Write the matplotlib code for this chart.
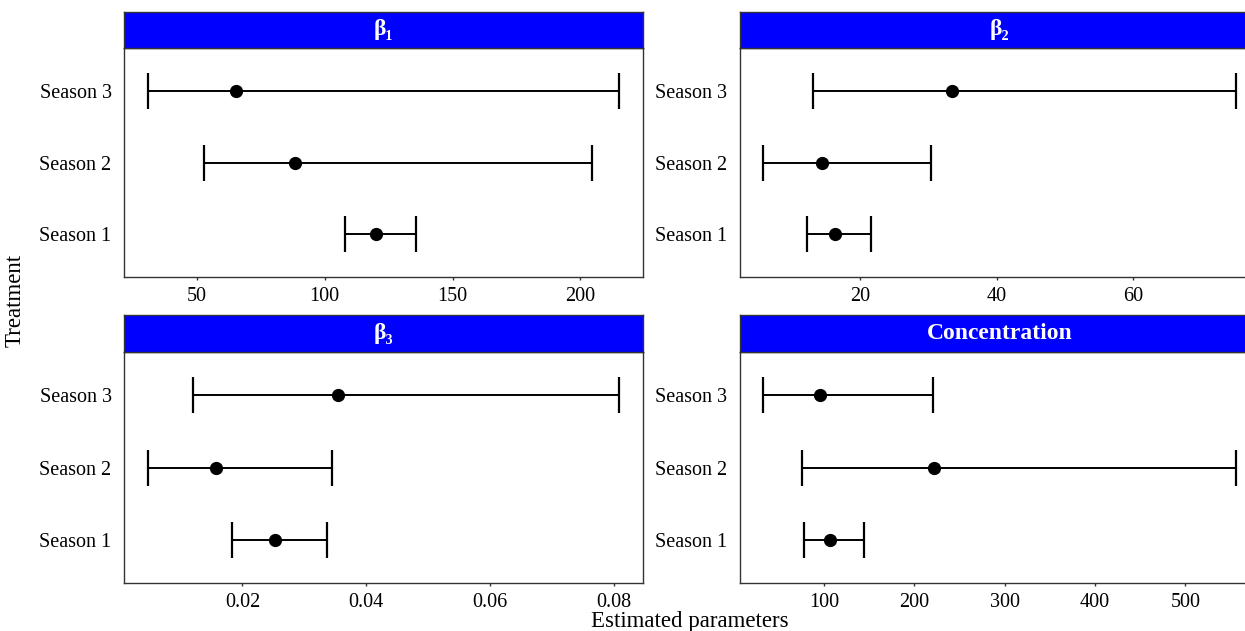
import numpy as np
import matplotlib
matplotlib.use("Agg")
import matplotlib.pyplot as plt

plt.rcParams['font.family'] = ['Liberation Serif', 'DejaVu Serif']

seasons = ['Season 1', 'Season 2', 'Season 3']
titles = ['β₁', 'β₂', 'β₃', 'Concentration']

b1_est = [120.1, 88.5, 65.2]
b1_lo = [107.9, 52.7, 30.8]
b1_hi = [135.9, 204.4, 215.1]

b2_est = [16.3, 14.4, 33.4]
b2_lo = [12.1, 5.75, 13.05]
b2_hi = [21.5, 30.35, 75.1]

b3_est = [0.0253, 0.0157, 0.0355]
b3_lo = [0.0183, 0.0047, 0.0121]
b3_hi = [0.0337, 0.0345, 0.0808]

conc_est = [106.5, 221.4, 95.6]
conc_lo = [78.3, 76.1, 32.9]
conc_hi = [144.5, 556.0, 220.4]

ticks = [[50, 100, 150, 200], [20, 40, 60],
         [0.02, 0.04, 0.06, 0.08], [100, 200, 300, 400, 500]]
tick_labels = [['50', '100', '150', '200'], ['20', '40', '60'],
               ['0.02', '0.04', '0.06', '0.08'], ['100', '200', '300', '400', '500']]

data = [(b1_est, b1_lo, b1_hi), (b2_est, b2_lo, b2_hi),
        (b3_est, b3_lo, b3_hi), (conc_est, conc_lo, conc_hi)]

W, H = 1245, 631
fig = plt.figure(figsize=(W / 100, H / 100), dpi=100)

# panel boxes in pixels: (left, right) and (strip_top, strip_bottom, plot_bottom)
cols = [(124, 642.7), (739.6, 1259.6)]
rows = [(12, 48, 277), (315, 352, 583)]

def px(x0, x1, y0, y1):
    return [x0 / W, 1 - y1 / H, (x1 - x0) / W, (y1 - y0) / H]

for i, (est, lo, hi) in enumerate(data):
    c, r = cols[i % 2], rows[i // 2]
    ax = fig.add_axes(px(c[0], c[1], r[1], r[2]))
    st = fig.add_axes(px(c[0], c[1], r[0], r[1]))

    est, lo, hi = np.array(est), np.array(lo), np.array(hi)
    y = np.arange(1, len(seasons) + 1)
    ax.errorbar(est, y, xerr=[est - lo, hi - est], fmt='o', color='black',
                markersize=8.5, elinewidth=1.4, capsize=13, capthick=1.6)

    span = hi.max() - lo.min()
    ax.set_xlim(lo.min() - 0.05 * span, hi.max() + 0.05 * span)
    ax.set_ylim(0.4, 3.6)
    ax.set_yticks(y)
    ax.set_yticklabels(seasons)
    ax.set_xticks(ticks[i])
    ax.set_xticklabels(tick_labels[i])
    ax.tick_params(labelsize=14.5, width=1.0, color='#333333',
                   labelcolor='black')
    ax.tick_params(axis='x', length=2.5, pad=5)
    ax.tick_params(axis='y', length=0, pad=9)
    for s in ax.spines.values():
        s.set_color('#333333')
        s.set_linewidth(1.0)

    st.set_facecolor('#0000FF')
    st.set_xticks([])
    st.set_yticks([])
    for s in st.spines.values():
        s.set_color('#333333')
        s.set_linewidth(1.0)
    st.text(0.5, 0.5, titles[i], transform=st.transAxes, ha='center',
            va='center', color='white', fontsize=17, fontweight='bold')

fig.text(15 / W, 1 - 300 / H, 'Treatment', rotation=90, ha='center',
         va='center', fontsize=16.5)
fig.text(690 / W, 1 - 611 / H, 'Estimated parameters', ha='center',
         va='top', fontsize=16.5)

fig.savefig('out.png', dpi=100)
